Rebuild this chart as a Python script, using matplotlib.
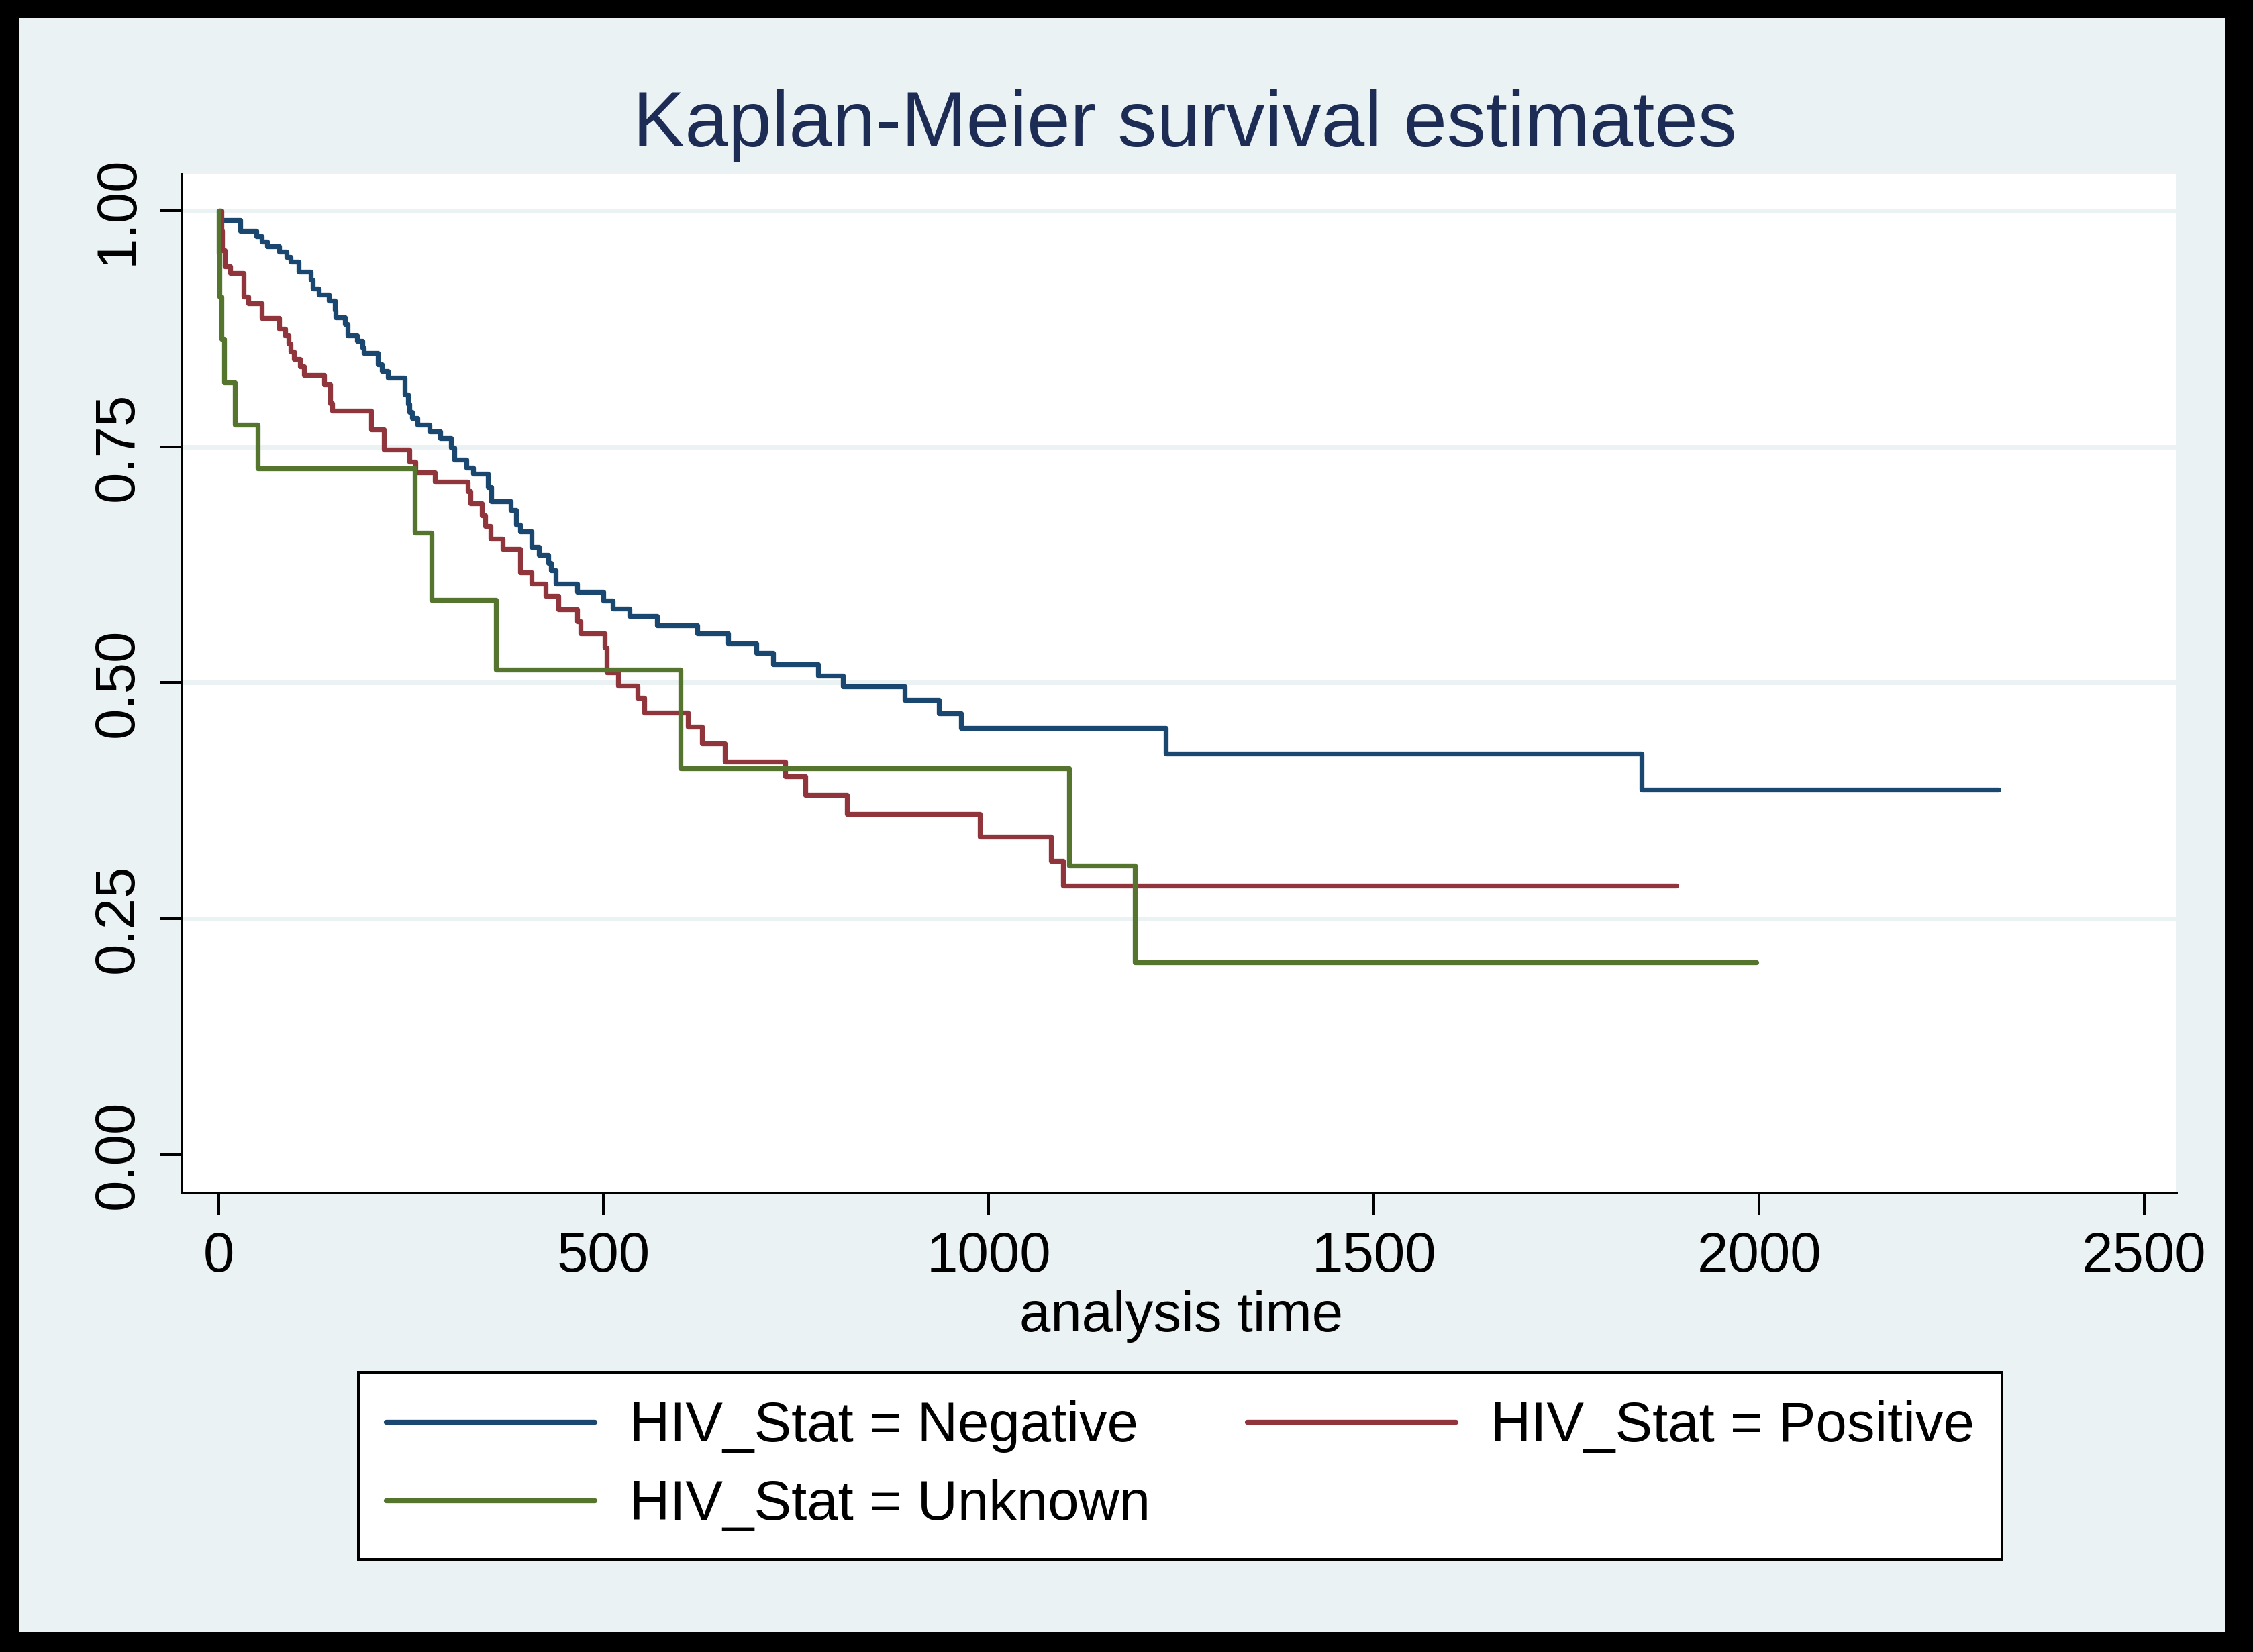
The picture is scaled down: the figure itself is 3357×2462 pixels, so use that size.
import matplotlib
matplotlib.use("Agg")
import matplotlib.pyplot as plt
from matplotlib.patches import Rectangle

plt.rcParams['font.family'] = ['Liberation Sans', 'DejaVu Sans']

# ---------------- data ----------------
title = "Kaplan-Meier survival estimates"
xlabel = "analysis time"
xticks = [0, 500, 1000, 1500, 2000, 2500]
yticks = [0.0, 0.25, 0.5, 0.75, 1.0]
ytick_labels = ["0.00", "0.25", "0.50", "0.75", "1.00"]
labels = ["HIV_Stat = Negative", "HIV_Stat = Positive", "HIV_Stat = Unknown"]

time_neg = [0, 3, 28, 49, 56, 63, 79, 88, 94, 104, 120, 122, 130, 143, 151, 152,
            164, 168, 180, 187, 189, 207, 212, 220, 242, 246, 248, 251, 258, 274,
            288, 302, 306, 322, 331, 350, 354, 379, 386, 392, 406, 416, 428, 432,
            438, 466, 500, 512, 534, 569, 622, 662, 698, 720, 778, 811, 891, 935,
            964, 1230, 1847, 2311]
surv_neg = [1.0, 0.990, 0.979, 0.973, 0.967, 0.962, 0.957, 0.951, 0.946, 0.935,
            0.927, 0.9175, 0.911, 0.9045, 0.895, 0.887, 0.880, 0.868, 0.862, 0.855,
            0.849, 0.837, 0.830, 0.823, 0.805, 0.795, 0.787, 0.780, 0.773, 0.766,
            0.759, 0.749, 0.736, 0.728, 0.721, 0.707, 0.692, 0.683, 0.6675, 0.660,
            0.644, 0.6355, 0.627, 0.619, 0.605, 0.5964, 0.587, 0.5786, 0.5703,
            0.5608, 0.552, 0.5418, 0.5312, 0.5193, 0.5076, 0.4962, 0.4815, 0.4673,
            0.4519, 0.425, 0.3866, 0.3866]

time_pos = [0, 4, 5, 8, 15.5, 33, 39, 56, 79, 87, 91, 94, 98, 106, 111, 137.5,
            145, 148, 198, 215, 248, 256, 281, 324, 327, 342, 346, 353, 369, 392,
            406, 425, 441, 466, 470, 501, 504, 519, 544, 553, 609, 628, 657, 736,
            762, 816, 988, 1081, 1096, 1893]
surv_pos = [1.0, 0.979, 0.958, 0.941, 0.934, 0.909, 0.902, 0.886, 0.875, 0.868,
            0.859, 0.851, 0.843, 0.835, 0.826, 0.816, 0.796, 0.788, 0.768, 0.747,
            0.734, 0.723, 0.713, 0.703, 0.690, 0.677, 0.666, 0.6526, 0.6415, 0.617,
            0.605, 0.592, 0.5777, 0.565, 0.552, 0.537, 0.511, 0.4968, 0.484, 0.4685,
            0.4531, 0.4353, 0.4164, 0.401, 0.381, 0.361, 0.337, 0.311, 0.285, 0.285]

time_unk = [0, 0.5, 1.5, 4, 7, 21, 51, 255, 277, 360, 600, 1104, 1190, 1996]
surv_unk = [1.0, 0.955, 0.909, 0.864, 0.818, 0.773, 0.727, 0.659, 0.5875, 0.514,
            0.409, 0.306, 0.204, 0.204]

# ---------------- style ----------------
W, H = 3357, 2462
DPI = 100
PX = 72.0 / DPI  # points per pixel

bg = "#eaf2f3"
c_neg = "#1a476f"
c_pos = "#90353b"
c_unk = "#55752f"
title_color = "#1c2c55"

fig = plt.figure(figsize=(W / DPI, H / DPI), dpi=DPI, facecolor="black")
fig.patches.append(Rectangle((28 / W, 30 / H), (3316 - 28) / W, (H - 27 - 30) / H,
                             transform=fig.transFigure, facecolor=bg,
                             edgecolor="none", zorder=-10))

ax_l, ax_r, ax_t, ax_b = 271, 3243, 260, 1778
ax = fig.add_axes([ax_l / W, (H - ax_b) / H, (ax_r - ax_l) / W, (ax_b - ax_t) / H])
ax.set_facecolor("white")

lw = 7.3 * PX
for t, s, c in [(time_neg, surv_neg, c_neg), (time_pos, surv_pos, c_pos),
                (time_unk, surv_unk, c_unk)]:
    ax.step(t, s, where="post", color=c, lw=lw, solid_capstyle="round",
            solid_joinstyle="round")

ax.set_xlim(-47.5, 2541.8)
ax.set_ylim(-0.0407, 1.0384)

ax.set_xticks(xticks)
ax.set_xticklabels([str(v) for v in xticks])
ax.set_yticks(yticks)
ax.set_yticklabels(ytick_labels, rotation=90, va="center")

for sp in ["top", "right"]:
    ax.spines[sp].set_visible(False)
for sp in ["left", "bottom"]:
    ax.spines[sp].set_linewidth(4 * PX)
    ax.spines[sp].set_color("black")

ax.tick_params(axis="both", direction="out", length=33 * PX, width=4 * PX,
               labelsize=60, pad=23 * PX, colors="black")

ax.yaxis.grid(True, color=bg, lw=7 * PX)
ax.set_axisbelow(True)
ax.get_ygridlines()[0].set_visible(False)

ax.set_xlabel(xlabel, fontsize=60)
ax.xaxis.label.set_va("baseline")
ax.xaxis.set_label_coords((1760 - ax_l) / (ax_r - ax_l), -(1984 - ax_b) / (ax_b - ax_t))

fig.text(1765 / W, (H - 218) / H, title, ha="center", va="baseline",
         fontsize=83.6, color=title_color)

lines = ax.get_lines()
order = [0, 2, 1]
leg = fig.legend([lines[i] for i in order], [labels[i] for i in order],
                 loc="center", bbox_to_anchor=(1758.5 / W, (H - 2184.5) / H),
                 ncol=2, fontsize=60, frameon=True, fancybox=False,
                 edgecolor="black", facecolor="white", framealpha=1,
                 handlelength=3.73, handletextpad=0.62, columnspacing=1.73,
                 labelspacing=0.47, borderpad=0.5)
leg.get_frame().set_linewidth(4 * PX)
for h in leg.get_lines():
    h.set_linewidth(lw)
    h.set_solid_capstyle("round")

fig.savefig("out.png", dpi=DPI, facecolor="black")
